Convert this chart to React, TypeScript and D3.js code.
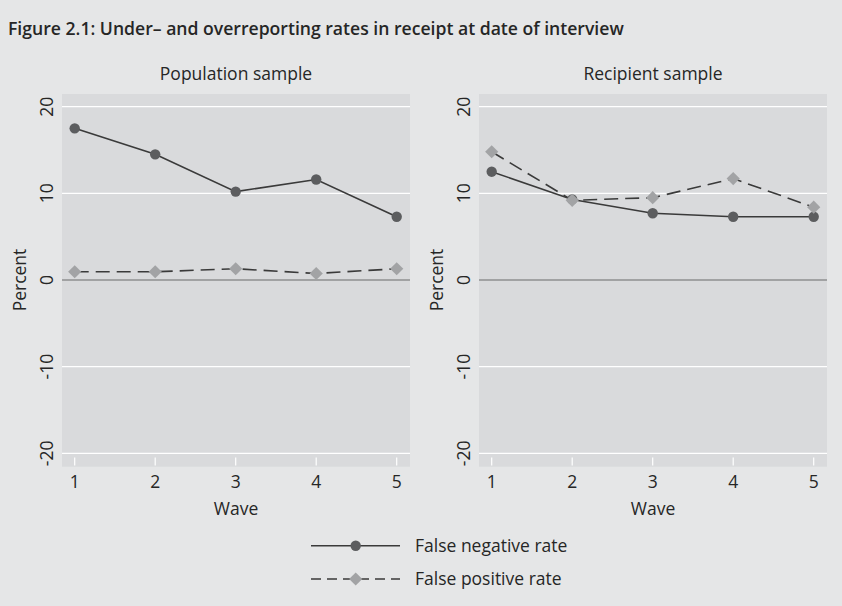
import React from "react";
import * as d3 from "d3";

const waves = [1, 2, 3, 4, 5];
const yTicks = [-20, -10, 0, 10, 20];
const panelTitles = ["Population sample", "Recipient sample"];
const popFalseNeg = [17.5, 14.5, 10.2, 11.6, 7.3];
const popFalsePos = [0.95, 0.95, 1.3, 0.75, 1.3];
const recFalseNeg = [12.5, 9.3, 7.7, 7.3, 7.3];
const recFalsePos = [14.8, 9.2, 9.5, 11.7, 8.4];
const legendLabels = ["False negative rate", "False positive rate"];
const titleText = "Figure 2.1: Under\u2013 and overreporting rates in receipt at date of interview";

const W = 842;
const H = 606;
const FONT = "'Open Sans', 'DejaVu Sans', sans-serif";
const FS = 17.5;
const BG = "#e5e6e7";
const PLOT_BG = "#d9dadc";
const DARK = "#3a3a3a";
const TEXT = "#262626";
const FN_MARK = "#5c5d5f";
const FP_MARK = "#a2a3a5";

const panels = [
  { x0: 62, x1: 410, neg: popFalseNeg, pos: popFalsePos, title: panelTitles[0] },
  { x0: 479, x1: 827, neg: recFalseNeg, pos: recFalsePos, title: panelTitles[1] },
];

const plotTop = 94;
const plotBottom = 466.7;
const y = d3.scaleLinear().domain([-20, 20]).range([453.3, 106.7]);

function diamondPath(cx: number, cy: number, r: number) {
  return `M${cx},${cy - r}L${cx + r},${cy}L${cx},${cy + r}L${cx - r},${cy}Z`;
}

function Panel({ p }: { p: typeof panels[number] }) {
  const x = d3.scaleLinear().domain([1, 5]).range([p.x0 + 12.7, p.x1 - 13.3]);
  const line = d3
    .line<number>()
    .x((_, i) => x(waves[i]))
    .y((d) => y(d));
  const cx = (p.x0 + p.x1) / 2;
  const labelX = p.x0 - 15.5;
  return (
    <g>
      <text x={cx} y={80} textAnchor="middle" fontFamily={FONT} fontSize={FS} fill={TEXT}>
        {p.title}
      </text>
      <rect x={p.x0} y={plotTop} width={p.x1 - p.x0} height={plotBottom - plotTop} fill={PLOT_BG} />
      {yTicks.map((t) => (
        <line
          key={t}
          x1={p.x0}
          x2={p.x1}
          y1={y(t)}
          y2={y(t)}
          stroke={t === 0 ? "#8e8f91" : "#ffffff"}
          strokeWidth={t === 0 ? 1.6 : 1.2}
        />
      ))}
      {yTicks.map((t) => (
        <text
          key={"l" + t}
          transform={`translate(${labelX},${y(t)}) rotate(-90)`}
          textAnchor="middle"
          dy="0.36em"
          fontFamily={FONT}
          fontSize={FS}
          fill={TEXT}
        >
          {t < 0 ? "-" + Math.abs(t) : String(t)}
        </text>
      ))}
      <text
        transform={`translate(${p.x0 - 42},${y(0)}) rotate(-90)`}
        textAnchor="middle"
        dy="0.36em"
        fontFamily={FONT}
        fontSize={FS}
        fill={TEXT}
      >
        Percent
      </text>
      {waves.map((w) => (
        <g key={w}>
          <line x1={x(w)} x2={x(w)} y1={457.5} y2={465.5} stroke="#ffffff" strokeWidth={1.2} />
          <text x={x(w)} y={488} textAnchor="middle" fontFamily={FONT} fontSize={FS} fill={TEXT}>
            {w}
          </text>
        </g>
      ))}
      <text x={cx} y={515} textAnchor="middle" fontFamily={FONT} fontSize={FS} fill={TEXT}>
        Wave
      </text>
      <path d={line(p.pos) || ""} fill="none" stroke={DARK} strokeWidth={1.6} strokeDasharray="14,7" />
      <path d={line(p.neg) || ""} fill="none" stroke={DARK} strokeWidth={1.6} />
      {p.neg.map((v, i) => (
        <circle key={"n" + i} cx={x(waves[i])} cy={y(v)} r={5.2} fill={FN_MARK} />
      ))}
      {p.pos.map((v, i) => (
        <path key={"p" + i} d={diamondPath(x(waves[i]), y(v), 6.6)} fill={FP_MARK} />
      ))}
    </g>
  );
}

export default function App() {
  const ly1 = 545.7;
  const ly2 = 579;
  return (
    <svg width={W} height={H} style={{ display: "block", position: "absolute", left: 0, top: 0 }}>
      <rect x={0} y={0} width={W} height={H} fill={BG} />
      <text x={8} y={35} fontFamily={FONT} fontSize={17.6} fontWeight={600} fill={TEXT}>
        {titleText}
      </text>
      {panels.map((p, i) => (
        <Panel key={i} p={p} />
      ))}
      <line x1={311} x2={400} y1={ly1} y2={ly1} stroke={DARK} strokeWidth={1.6} />
      <circle cx={355.7} cy={ly1} r={5.2} fill={FN_MARK} />
      <line x1={311} x2={400} y1={ly2} y2={ly2} stroke={DARK} strokeWidth={1.6} strokeDasharray="10,6" />
      <path d={diamondPath(355.7, ly2, 6.6)} fill={FP_MARK} />
      <text x={415} y={ly1} dy="0.36em" fontFamily={FONT} fontSize={FS} fill={TEXT}>
        {legendLabels[0]}
      </text>
      <text x={415} y={ly2} dy="0.36em" fontFamily={FONT} fontSize={FS} fill={TEXT}>
        {legendLabels[1]}
      </text>
    </svg>
  );
}
